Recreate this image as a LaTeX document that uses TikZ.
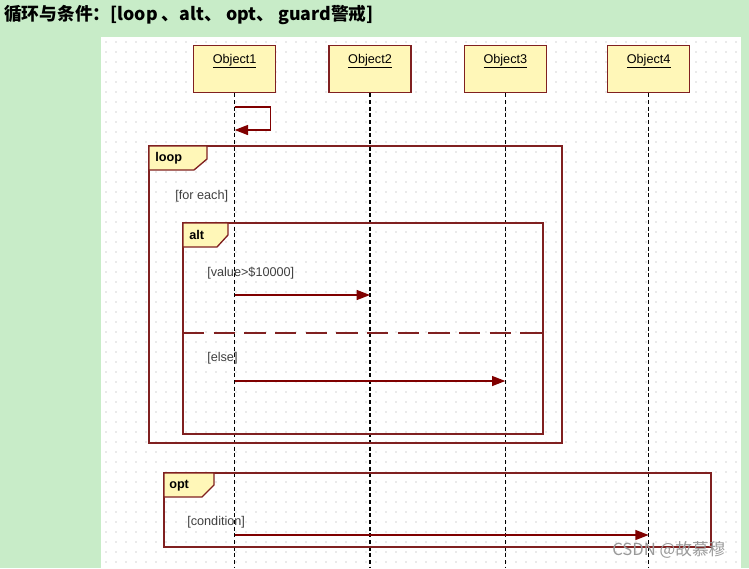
\documentclass[tikz,border=0pt]{standalone}
\usepackage{fontspec}
\setmainfont{Liberation Sans}
\newfontfamily\cjk{Noto Sans CJK SC}
\usepackage{tikz}
\usetikzlibrary{arrows.meta,positioning,calc}

\definecolor{pagegreen}{RGB}{200,236,200}
\definecolor{umlred}{RGB}{128,32,32}
\definecolor{msgred}{RGB}{128,0,0}
\definecolor{objfill}{RGB}{255,247,184}
\definecolor{guardtext}{RGB}{64,64,64}

\begin{document}
\begin{tikzpicture}[
    x=0.75pt, y=-0.75pt,
    node distance=39pt,
    obj/.style={rectangle, draw=umlred, fill=objfill, line width=1pt, minimum width=61.5pt,
        inner xsep=0pt, inner ysep=6pt, text height=7pt, text depth=16.25pt, font=\fontsize{9.5}{10}\selectfont},
    lifeline/.style={draw=black, line width=1.1pt, dash pattern=on 3pt off 2pt},
    frame/.style={draw=umlred, line width=1pt},
    tabshape/.style={draw=umlred, fill=objfill, line width=1pt},
    tag/.style={anchor=west, inner sep=0pt, font=\bfseries\fontsize{9.5}{10}\selectfont},
    guard/.style={anchor=west, inner sep=0pt, text=guardtext, font=\fontsize{9.5}{10}\selectfont},
    msg/.style={draw=msgred, line width=1pt, -{Triangle[length=10pt,width=7.5pt]}}
]
\useasboundingbox (0,0) rectangle (749,568);
\fill[pagegreen] (0,0) rectangle (749,568);
\fill[white] (101,37) rectangle (741,568);

% dot grid
\foreach \gx in {106,116,...,736}
  \foreach \gy in {42,52,...,562}
    \fill[black!35] (\gx,\gy) circle (0.55);

\node[anchor=west, inner sep=0pt, font=\cjk\bfseries\fontsize{13.3}{15}\selectfont] (title) at (4,15) {循环与条件：[loop 、alt、 opt、 guard警戒]};

% objects
\node[obj, anchor=north west] (obj1) at (193,45) {\underline{Object1}};
\node[obj, right=of obj1] (obj2) {\underline{Object2}};
\node[obj, right=of obj2] (obj3) {\underline{Object3}};
\node[obj, right=45pt of obj3] (obj4) {\underline{Object4}};

% lifelines
\foreach \o in {obj1,obj2,obj3,obj4} {
  \coordinate (\o end) at (\o |- 0,568);
  \draw[lifeline] (\o) -- (\o end);
}

% self message
\coordinate (self out) at (obj1 |- 0,107);
\coordinate (self in) at (obj1 |- 0,130);
\draw[msg] (self out) -- ++(36,0) |- (self in);

% loop
\draw[frame] (149,146) rectangle (562,443);
\filldraw[tabshape] (149,146) -- (207,146) -- (207,159) -- (194,170) -- (149,170) -- cycle;
\node[tag] (looptag) at (155,158) {loop};
\node[guard] (foreach) at (175,196) {[for each]};

% alt
\draw[frame] (183,223) rectangle (543,434);
\filldraw[tabshape] (183,223) -- (228,223) -- (228,235) -- (217,247) -- (183,247) -- cycle;
\node[tag] (alttag) at (189,235) {alt};
\node[guard] (valueguard) at (207,273) {[value>\$10000]};
\coordinate (m1 from) at (obj1 |- 0,295);
\coordinate (m1 to) at (obj2 |- 0,295);
\draw[msg] (m1 from) -- (m1 to);
\draw[frame, dash pattern=on 16pt off 7pt] (183,333) -- (543,333);
\node[guard] (elseguard) at (207,358) {[else]};
\coordinate (m2 from) at (obj1 |- 0,381);
\coordinate (m2 to) at (obj3 |- 0,381);
\draw[msg] (m2 from) -- (m2 to);

% opt
\draw[frame] (164,473) rectangle (711,547);
\filldraw[tabshape] (164,473) -- (214,473) -- (214,485) -- (202,497) -- (164,497) -- cycle;
\node[tag] (opttag) at (169,486) {opt};
\node[guard] (condguard) at (187,522) {[condition]};
\coordinate (m3 from) at (obj1 |- 0,535);
\coordinate (m3 to) at (obj4 |- 0,535);
\draw[msg] (m3 from) -- (m3 to);

\node[anchor=west, inner sep=0pt, text=black!40, font=\cjk\fontsize{12.5}{14}\selectfont] (mark) at (612,550) {CSDN @故慕穆};

\end{tikzpicture}
\end{document}
